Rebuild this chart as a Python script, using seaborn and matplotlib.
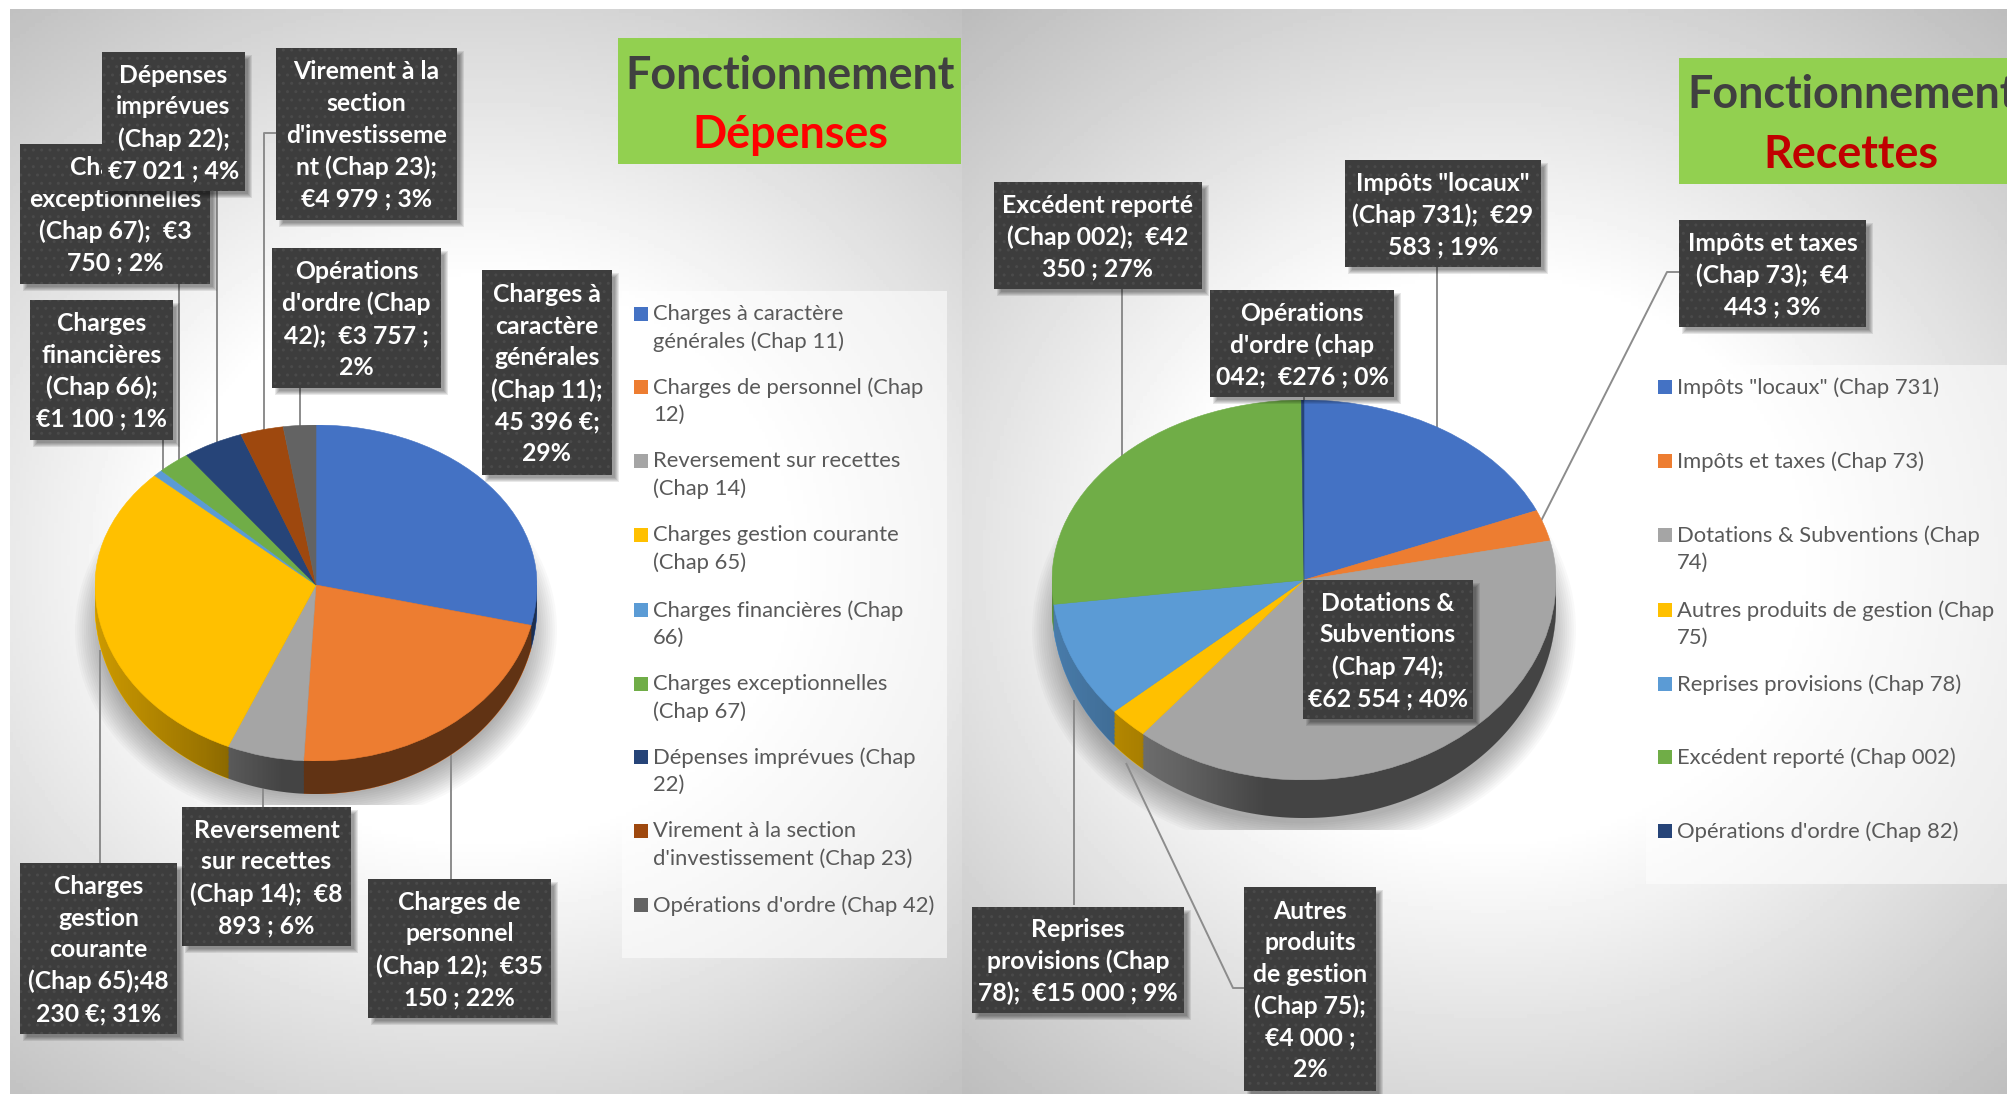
import numpy as np
import matplotlib
matplotlib.use('Agg')
import matplotlib.pyplot as plt
import matplotlib.patches as mpatches
import seaborn as sns

sns.set_style('white')
plt.rcParams['font.family'] = ['Lato', 'DejaVu Sans']

W, H = 2008, 1094

# depenses
dep_names = ['Charges à caractère\ngénérales (Chap 11)', 'Charges de personnel (Chap\n12)',
             'Reversement sur recettes\n(Chap 14)', 'Charges gestion courante\n(Chap 65)',
             'Charges financières (Chap\n66)', 'Charges exceptionnelles\n(Chap 67)',
             'Dépenses imprévues (Chap\n22)', 'Virement à la section\nd\'investissement (Chap 23)',
             'Opérations d\'ordre (Chap 42)']
dep_values = [45396, 35150, 8893, 48230, 1100, 3750, 7021, 4979, 3757]
dep_colors = ['#4472C4', '#ED7D31', '#A5A5A5', '#FFC000', '#5B9BD5', '#70AD47', '#264478', '#9E480E', '#636363']
dep_labels = ['Charges à\ncaractère\ngénérales\n(Chap 11);\n45 396 €;\n29%',
              'Charges de\npersonnel\n(Chap 12);  €35\n150 ; 22%',
              'Reversement\nsur recettes\n(Chap 14);  €8\n893 ; 6%',
              'Charges\ngestion\ncourante\n(Chap 65);48\n230 €; 31%',
              'Charges\nfinancières\n(Chap 66);\n€1 100 ; 1%',
              'Charges\nexceptionnelles\n(Chap 67);  €3\n750 ; 2%',
              'Dépenses\nimprévues\n(Chap 22);\n€7 021 ; 4%',
              'Virement à la\nsection\nd\'investisseme\nnt (Chap 23);\n€4 979 ; 3%',
              'Opérations\nd\'ordre (Chap\n42);  €3 757 ;\n2%']

# recettes
rec_names = ['Impôts "locaux" (Chap 731)', 'Impôts et taxes (Chap 73)', 'Dotations & Subventions (Chap\n74)',
             'Autres produits de gestion (Chap\n75)', 'Reprises provisions (Chap 78)',
             'Excédent reporté (Chap 002)', 'Opérations d\'ordre (Chap 82)']
rec_values = [29583, 4443, 62554, 4000, 15000, 42350, 276]
rec_colors = ['#4472C4', '#ED7D31', '#A5A5A5', '#FFC000', '#5B9BD5', '#70AD47', '#264478']
rec_labels = ['Impôts "locaux"\n(Chap 731);  €29\n583 ; 19%',
              'Impôts et taxes\n(Chap 73);  €4\n443 ; 3%',
              'Dotations &\nSubventions\n(Chap 74);\n€62 554 ; 40%',
              'Autres\nproduits\nde gestion\n(Chap 75);\n€4 000 ;\n2%',
              'Reprises\nprovisions (Chap\n78);  €15 000 ; 9%',
              'Excédent reporté\n(Chap 002);  €42\n350 ; 27%',
              'Opérations\nd\'ordre (chap\n042;  €276 ; 0%']

# boxes in pixels: x0, y0, x1, y1 (same order as labels)
dep_boxes = [(482, 270, 612, 475), (368, 879, 551, 1018), (182, 807, 351, 946), (20, 863, 177, 1034),
             (30, 300, 173, 440), (20, 144, 210, 284), (102, 52, 245, 191), (276, 48, 457, 220), (272, 248, 441, 388)]
rec_boxes = [(1345, 160, 1541, 267), (1679, 220, 1866, 327), (1303, 580, 1473, 719), (1244, 887, 1376, 1091),
             (972, 907, 1184, 1013), (994, 182, 1202, 289), (1210, 290, 1394, 397)]

dep_leaders = [[(451, 879), (451, 750)], [(263, 807), (263, 780)], [(100, 863), (100, 650)], [(163, 440), (163, 475)],
               [(179, 284), (179, 460)], [(217, 191), (217, 445)], [(276, 133), (264, 133), (264, 435)],
               [(300, 388), (300, 430)]]
rec_leaders = [[(1437, 267), (1437, 435)], [(1679, 272), (1667, 272), (1540, 523)], [(1122, 289), (1122, 465)],
               [(1074, 905), (1074, 700)], [(1244, 988), (1233, 988), (1126, 763)], [(1304, 397), (1304, 402)]]

legend_rows_dep = [314, 387, 461, 535, 610, 684, 757, 831, 905]
legend_rows_rec = [387, 461, 535, 610, 684, 757, 831]

fig = plt.figure(figsize=(W / 100, H / 100), dpi=100, facecolor='white')


def px_axes(x0, y0, x1, y1, z):
    ax = fig.add_axes([x0 / W, 1 - y1 / H, (x1 - x0) / W, (y1 - y0) / H], zorder=z)
    ax.patch.set_alpha(0)
    ax.axis('off')
    return ax


def half_pie(values, colors, cx, cy, rx, ry, lower, z):
    if lower:
        ax = px_axes(cx - rx, cy, cx + rx, cy + ry, z)
    else:
        ax = px_axes(cx - rx, cy - ry, cx + rx, cy, z)
    wedges, _ = ax.pie(values, colors=colors, startangle=90, counterclock=False, radius=1)
    for w in wedges:
        w.set_edgecolor(w.get_facecolor())
        w.set_linewidth(0.4)
        w.set_clip_on(True)  # pie turns this off, we only want the half inside the axes
    ax.set_aspect('auto')
    ax.set_xlim(-1, 1)
    ax.set_ylim((-1, 0) if lower else (0, 1))
    ax.axis('off')


def pie_3d(values, colors, cx, cy, rx, ry_up, ry_low, shift, grow, z):
    # side of the pie: stack of lower halves, lowest one first so the rims stay visible
    for t in np.linspace(1, 0, 26):
        half_pie(values, colors, cx, cy + shift * t, rx, ry_low + grow * t, True, z)
    # shading of the side
    bottom = cy + shift + ry_low + grow
    sh = px_axes(cx - rx, cy, cx + rx, bottom, z + 1)
    xs = np.linspace(-1, 1, 400)
    mult = np.interp(xs, [-1, -0.5, -0.15, 1], [0.8, 0.6, 0.41, 0.41])
    rgba = np.zeros((1, 400, 4))
    rgba[0, :, 3] = 1 - mult
    im = sh.imshow(rgba, extent=(cx - rx, cx + rx, bottom, cy), aspect='auto')
    sh.set_xlim(cx - rx, cx + rx)
    sh.set_ylim(bottom, cy)
    a = np.linspace(0, np.pi, 200)
    outline = np.column_stack([cx + rx * np.cos(a), cy + shift + (ry_low + grow) * np.sin(a)])
    outline = np.vstack([[cx + rx, cy], outline, [cx - rx, cy]])
    clip = mpatches.Polygon(outline, closed=True, transform=sh.transData, facecolor='none', edgecolor='none')
    sh.add_patch(clip)
    im.set_clip_path(clip)
    # top surface
    half_pie(values, colors, cx, cy, rx, ry_up, False, z + 2)
    half_pie(values, colors, cx, cy, rx, ry_low, True, z + 2)


def panel_bg(ax, x0, x1, cx, cy):
    yy, xx = np.mgrid[9:H:300j, x0:x1:300j]
    d = np.sqrt(((xx - cx) / 620) ** 2 + ((yy - cy) / 560) ** 2)
    g = 1 - 0.33 * np.clip(d - 0.5, 0, None)
    ax.imshow(g, extent=(x0, x1, H, 9), cmap='gray', vmin=0, vmax=1, aspect='auto', zorder=0)


bg = px_axes(0, 0, W, H, 1)
panel_bg(bg, 10, 962, 480, 560)
panel_bg(bg, 962, W, 1490, 560)
bg.set_xlim(0, W)
bg.set_ylim(H, 0)


def soft_shadow(cx, cy, rx, ry, clip_bottom):
    # only the part under the pie should show, so it sits lower than the top surface
    box = mpatches.Rectangle((0, 0), W, clip_bottom, transform=bg.transData, facecolor='none', edgecolor='none')
    bg.add_patch(box)
    for i in range(14):
        e = mpatches.Ellipse((cx, cy), 2 * (rx + 20 - i * 2.2), 2 * (ry - i * 2.2), facecolor='black',
                             alpha=0.022, edgecolor='none', zorder=2)
        bg.add_patch(e)
        e.set_clip_path(box)


soft_shadow(316, 630, 221, 195, 805)
soft_shadow(1304, 630, 252, 222, 830)

pie_3d(dep_values, dep_colors, 316, 585, 221, 160, 176, 20, 13, 10)
pie_3d(rec_values, rec_colors, 1304, 580, 252, 180, 200, 25, 13, 10)

top = px_axes(0, 0, W, H, 50)
top.set_xlim(0, W)
top.set_ylim(H, 0)

# green title boxes
top.add_patch(mpatches.Rectangle((618, 38), 343, 126, facecolor='#92D050', edgecolor='none', zorder=1))
top.text(790, 76, 'Fonctionnement', color='#404040', fontsize=32.3, fontweight='bold', ha='center', va='center', zorder=2)
top.text(790, 135, 'Dépenses', color='#FF0000', fontsize=32.3, fontweight='bold', ha='center', va='center', zorder=2)
top.add_patch(mpatches.Rectangle((1679, 58), 340, 126, facecolor='#92D050', edgecolor='none', zorder=1))
top.text(1687, 95, 'Fonctionnement', color='#404040', fontsize=32.3, fontweight='bold', ha='left', va='center', zorder=2)
top.text(1851, 155, 'Recettes', color='#C00000', fontsize=32.3, fontweight='bold', ha='center', va='center', zorder=2)

# legends
top.add_patch(mpatches.Rectangle((622, 291), 325, 667, facecolor='white', alpha=0.55, edgecolor='none', zorder=1))
top.add_patch(mpatches.Rectangle((1646, 365), 362, 519, facecolor='white', alpha=0.55, edgecolor='none', zorder=1))


def draw_legend(names, colors, rows, xs):
    for name, col, y in zip(names, colors, rows):
        top.add_patch(mpatches.Rectangle((xs, y - 7), 14, 14, facecolor=col, edgecolor='none', zorder=2))
        top.text(xs + 19, y - 10, name, color='#595959', fontsize=15.8, ha='left', va='top', linespacing=1.46, zorder=2)


draw_legend(dep_names, dep_colors, legend_rows_dep, 634)
draw_legend(rec_names, rec_colors, legend_rows_rec, 1658)


def draw_leaders(leaders):
    for pts in leaders:
        p = np.array(pts)
        bg.plot(p[:, 0], p[:, 1], color='#8c8c8c', lw=1.4, zorder=3, solid_capstyle='butt')


draw_leaders(dep_leaders)
draw_leaders(rec_leaders)
bg.set_xlim(0, W)
bg.set_ylim(H, 0)


def draw_boxes(labels, boxes, z0):
    for i, (txt, b) in enumerate(zip(labels, boxes)):
        x0, y0, x1, y1 = b
        z = z0 + i * 3
        for k in range(5):
            top.add_patch(mpatches.Rectangle((x0 + 3 + k, y0 + 3 + k), x1 - x0 + 4 - 2 * k, y1 - y0 + 4 - 2 * k,
                                             facecolor='black', alpha=0.09, edgecolor='none', zorder=z))
        top.add_patch(mpatches.Rectangle((x0, y0), x1 - x0, y1 - y0, facecolor='#3d3d3d', edgecolor='#4a4a4a',
                                         hatch='..', linewidth=0, zorder=z + 1))
        top.text((x0 + x1) / 2, (y0 + y1) / 2 + 1.5, txt, color='white', fontsize=17.8, fontweight='bold', ha='center',
                 va='center', linespacing=1.45, zorder=z + 2)


draw_boxes(dep_labels, dep_boxes, 10)
draw_boxes(rec_labels, rec_boxes, 10)

plt.savefig('out.png', dpi=100)
